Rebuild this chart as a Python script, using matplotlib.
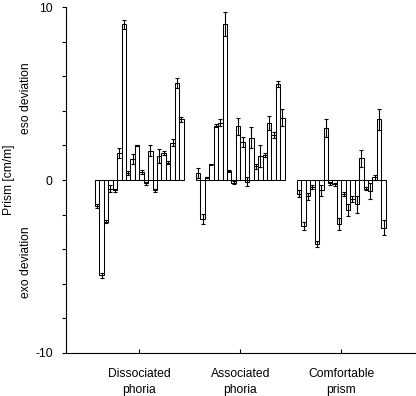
import numpy as np
import matplotlib
matplotlib.use("Agg")
import matplotlib.pyplot as plt

plt.rcParams['font.family'] = ['Liberation Sans', 'DejaVu Sans']

groups = ["Dissociated\nphoria", "Associated\nphoria", "Comfortable\nprism"]

# 20 subjects per condition, mean prism [cm/m] and error
dissociated = [-1.5, -5.5, -2.4, -0.5, -0.6, 1.55, 9.0, 0.4, 1.2, 2.0,
               0.45, -0.2, 1.7, -0.6, 1.4, 1.55, 1.0, 2.15, 5.6, 3.5]
dissociated_err = [0.1, 0.15, 0.1, 0.2, 0.1, 0.3, 0.25, 0.1, 0.3, 0.05,
                   0.1, 0.1, 0.3, 0.1, 0.4, 0.1, 0.1, 0.2, 0.3, 0.15]

associated = [0.4, -2.25, 0.15, 0.9, 3.15, 3.3, 9.0, 0.5, -0.15, 3.1,
              2.2, -0.1, 2.45, 0.8, 1.4, 1.45, 3.3, 2.6, 5.55, 3.6]
associated_err = [0.3, 0.3, 0.05, 0.05, 0.1, 0.2, 0.7, 0.05, 0.1, 0.5,
                  0.3, 0.25, 0.6, 0.15, 0.65, 0.1, 0.4, 0.2, 0.2, 0.5]

comfortable = [-0.8, -2.65, -0.95, -0.4, -3.7, -0.6, 3.0, -0.2, -0.25, -2.55,
               -0.8, -1.75, -1.1, -1.4, 1.25, -0.5, -0.65, 0.15, 3.5, -2.75]
comfortable_err = [0.2, 0.25, 0.2, 0.1, 0.2, 0.3, 0.5, 0.1, 0.1, 0.35,
                   0.1, 0.35, 0.15, 0.5, 0.5, 0.1, 0.45, 0.15, 0.6, 0.45]

series = [(dissociated, dissociated_err), (associated, associated_err),
          (comfortable, comfortable_err)]

GROUP_STEP = 22.75
FS = 8.7

fig = plt.figure(figsize=(4.16, 3.96), dpi=100)
ax = fig.add_axes([0.1587, 0.1086, 0.839, 0.8737])

centers = []
for g, (vals, errs) in enumerate(series):
    x = g * GROUP_STEP + np.arange(len(vals))
    ax.bar(x, vals, width=1.0, color='white', edgecolor='black', linewidth=0.75, zorder=2)
    ax.errorbar(x, vals, yerr=errs, fmt='none', ecolor='black', elinewidth=0.8,
                capsize=1.5, capthick=0.8, zorder=3)
    centers.append(g * GROUP_STEP + (len(vals) - 1) / 2)

ax.set_xlim(-7.0, 2 * GROUP_STEP + 19.5 + 6.6)
ax.set_ylim(-10, 10)

ax.set_yticks(np.arange(-10, 11, 2))
ax.set_yticklabels(['-10' if v == -10 else '0' if v == 0 else '10' if v == 10 else ''
                    for v in range(-10, 11, 2)])
ax.tick_params(axis='y', direction='out', length=3, width=0.8, pad=6.5, labelsize=FS)

ax.set_xticks(centers)
ax.set_xticklabels(groups, linespacing=1.45)
ax.tick_params(axis='x', direction='in', length=3, width=0.8, pad=10.5, labelsize=FS)

for side in ['top', 'right']:
    ax.spines[side].set_visible(False)
ax.spines['left'].set_linewidth(0.8)
ax.spines['bottom'].set_linewidth(0.8)

fig.text(0.022, 0.545, "Prism [cm/m]", rotation=90, ha='center', va='center', fontsize=FS)
fig.text(0.062, 0.752, "eso deviation", rotation=90, ha='center', va='center', fontsize=FS)
fig.text(0.062, 0.338, "exo deviation", rotation=90, ha='center', va='center', fontsize=FS)

fig.savefig("out.png", dpi=100)
